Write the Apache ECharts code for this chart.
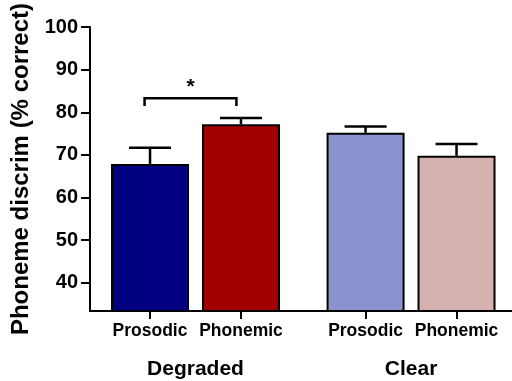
<!DOCTYPE html>
<html style="height: 100%">
<head>
    <meta charset="utf-8">
    <title>Phoneme discrim</title>
    <script src="https://cdn.jsdelivr.net/npm/echarts@6/dist/echarts.min.js"></script>
</head>
<body style="height: 100%; margin: 0; background: #fff">
    <div id="container" style="width: 512px; height: 381px"></div>
    <script type="text/javascript">
        // bar positions on the x axis (gap between the two groups)
        var positions = [1, 2, 3.37, 4.37];
        var barNames = ['Prosodic', 'Phonemic', 'Prosodic', 'Phonemic'];
        var means = [67.9, 77.2, 75.2, 69.8];
        var errTops = [71.7, 78.7, 76.7, 72.6];
        var barColors = ['#000080', '#a00000', '#8b92cd', '#d7b0b0'];
        var groupPos = [1.5, 3.87];
        var groupNames = ['Degraded', 'Clear'];
        var yTicks = [40, 50, 60, 70, 80, 90, 100];
        // significance bracket: x from, x to, top, leg bottom
        var bracket = [0.94, 1.95, 83.3, 81.5];

        var dom = document.getElementById('container');
        var myChart = echarts.init(dom);
        var font = 'Liberation Sans, Arial, sans-serif';

        var barData = [];
        var errData = [];
        for (var i = 0; i < positions.length; i++) {
            barData.push({ value: [positions[i], means[i]], itemStyle: { color: barColors[i] } });
            errData.push([positions[i], means[i], errTops[i]]);
        }

        var option = {
            animation: false,
            grid: { left: 90, right: 0, top: 24, bottom: 70 },
            xAxis: [{
                type: 'value',
                min: 0.34,
                max: 4.98,
                splitLine: { show: false },
                axisLine: { lineStyle: { color: '#000', width: 2 } },
                axisTick: { customValues: positions, length: 8, lineStyle: { color: '#000', width: 2 } },
                axisLabel: {
                    customValues: positions,
                    margin: 11,
                    color: '#000',
                    fontFamily: font,
                    fontWeight: 'bold',
                    fontSize: 17.5,
                    formatter: function (v) {
                        return barNames[positions.indexOf(v)];
                    }
                }
            }, {
                type: 'value',
                min: 0.34,
                max: 4.98,
                position: 'bottom',
                splitLine: { show: false },
                axisLine: { show: false },
                axisTick: { show: false },
                axisLabel: {
                    customValues: groupPos,
                    margin: 48,
                    color: '#000',
                    fontFamily: font,
                    fontWeight: 'bold',
                    fontSize: 21,
                    formatter: function (v) {
                        return groupNames[groupPos.indexOf(v)];
                    }
                }
            }],
            yAxis: {
                type: 'value',
                min: 33.4,
                max: 100,
                name: 'Phoneme discrim (% correct)',
                nameLocation: 'middle',
                nameGap: 50,
                nameTextStyle: { color: '#000', fontFamily: font, fontWeight: 'bold', fontSize: 24 },
                splitLine: { show: false },
                axisLine: { show: true, lineStyle: { color: '#000', width: 2 } },
                axisTick: { customValues: yTicks, length: 9, lineStyle: { color: '#000', width: 2 } },
                axisLabel: {
                    customValues: yTicks,
                    margin: 12,
                    color: '#000',
                    fontFamily: font,
                    fontWeight: 'bold',
                    fontSize: 20
                }
            },
            series: [{
                type: 'bar',
                barWidth: 78,
                itemStyle: { borderColor: '#000', borderWidth: 2 },
                data: barData
            }, {
                type: 'custom',
                z: 3,
                data: errData,
                renderItem: function (params, api) {
                    var top = api.coord([api.value(0), api.value(2)]);
                    var base = api.coord([api.value(0), api.value(1)]);
                    var style = { stroke: '#000', lineWidth: 2.5 };
                    return {
                        type: 'group',
                        children: [
                            { type: 'line', shape: { x1: top[0], y1: base[1], x2: top[0], y2: top[1] }, style: style },
                            { type: 'line', shape: { x1: top[0] - 21, y1: top[1], x2: top[0] + 21, y2: top[1] }, style: style }
                        ]
                    };
                }
            }, {
                type: 'custom',
                z: 3,
                data: [bracket],
                renderItem: function (params, api) {
                    var a = api.coord([api.value(0), api.value(3)]);
                    var b = api.coord([api.value(0), api.value(2)]);
                    var c = api.coord([api.value(1), api.value(2)]);
                    var d = api.coord([api.value(1), api.value(3)]);
                    return {
                        type: 'group',
                        children: [
                            { type: 'polyline', shape: { points: [a, b, c, d] }, style: { stroke: '#000', lineWidth: 2.5, fill: null } },
                            {
                                type: 'text',
                                x: (b[0] + c[0]) / 2,
                                y: b[1] - 1,
                                style: { text: '*', fill: '#000', font: 'bold 21px ' + font, align: 'center', verticalAlign: 'bottom' }
                            }
                        ]
                    };
                }
            }]
        };
        myChart.setOption(option);
    </script>
</body>
</html>
